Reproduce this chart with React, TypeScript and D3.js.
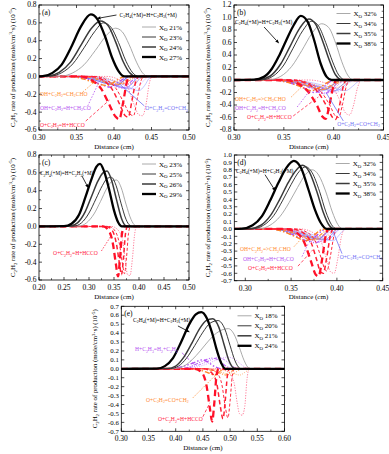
import React from "react";
import * as d3 from "d3";

type Pt = [number, number];

// ---------- (a) ----------
const aXO = ["21%", "23%", "24%", "27%"];
const aXTicks = [0.3, 0.35, 0.4, 0.45, 0.5];
const aYTicks = [-0.6, -0.4, -0.2, 0, 0.2, 0.4, 0.6, 0.8];
const aC2H4: Pt[][] = [
  [[0.3, 0], [0.33, 0.004], [0.345, 0.04], [0.36, 0.13], [0.375, 0.29], [0.39, 0.46], [0.402, 0.54], [0.411, 0.5], [0.42, 0.36], [0.43, 0.16], [0.438, 0.04], [0.445, 0], [0.5, 0]],
  [[0.3, 0], [0.315, 0.004], [0.33, 0.04], [0.345, 0.14], [0.36, 0.32], [0.374, 0.5], [0.386, 0.6], [0.396, 0.55], [0.406, 0.38], [0.416, 0.17], [0.425, 0.04], [0.433, 0], [0.5, 0]],
  [[0.3, 0], [0.312, 0.004], [0.327, 0.045], [0.342, 0.16], [0.356, 0.35], [0.37, 0.54], [0.382, 0.62], [0.392, 0.57], [0.402, 0.39], [0.412, 0.17], [0.421, 0.04], [0.429, 0], [0.5, 0]],
  [[0.3, 0], [0.305, 0.003], [0.318, 0.04], [0.33, 0.13], [0.343, 0.33], [0.356, 0.56], [0.369, 0.695], [0.378, 0.64], [0.388, 0.45], [0.397, 0.22], [0.406, 0.06], [0.414, 0], [0.5, 0]],
];
const aHCCO: Pt[][] = [
  [[0.3, 0], [0.39, 0], [0.405, -0.03], [0.418, -0.12], [0.427, -0.32], [0.433, -0.43], [0.438, -0.44], [0.443, -0.3], [0.447, -0.08], [0.451, 0], [0.5, 0]],
  [[0.3, 0], [0.375, 0], [0.39, -0.04], [0.403, -0.14], [0.414, -0.31], [0.421, -0.42], [0.426, -0.44], [0.431, -0.25], [0.436, -0.05], [0.44, 0], [0.5, 0]],
  [[0.3, 0], [0.37, 0], [0.385, -0.04], [0.398, -0.15], [0.408, -0.32], [0.415, -0.44], [0.419, -0.455], [0.424, -0.27], [0.429, -0.06], [0.433, 0], [0.5, 0]],
  [[0.3, 0], [0.355, 0], [0.37, -0.04], [0.383, -0.14], [0.394, -0.32], [0.402, -0.45], [0.407, -0.48], [0.412, -0.3], [0.417, -0.07], [0.421, 0], [0.5, 0]],
];
const aCH2CHO: Pt[][] = [
  [[0.3, 0], [0.37, 0], [0.39, -0.02], [0.405, -0.06], [0.418, -0.085], [0.428, -0.06], [0.437, -0.015], [0.445, 0], [0.5, 0]],
  [[0.3, 0], [0.36, 0], [0.38, -0.025], [0.395, -0.065], [0.408, -0.09], [0.418, -0.06], [0.427, -0.015], [0.435, 0], [0.5, 0]],
  [[0.3, 0], [0.355, 0], [0.375, -0.025], [0.39, -0.07], [0.403, -0.095], [0.413, -0.06], [0.422, -0.015], [0.43, 0], [0.5, 0]],
  [[0.3, 0], [0.34, 0], [0.36, -0.03], [0.375, -0.075], [0.39, -0.1], [0.4, -0.065], [0.409, -0.015], [0.416, 0], [0.5, 0]],
];
const aCH2CO: Pt[][] = [
  [[0.3, 0], [0.37, 0], [0.395, -0.03], [0.41, -0.08], [0.425, -0.14], [0.435, -0.09], [0.443, -0.02], [0.45, 0], [0.5, 0]],
  [[0.3, 0], [0.36, 0], [0.385, -0.03], [0.4, -0.08], [0.414, -0.13], [0.424, -0.08], [0.432, -0.02], [0.44, 0], [0.5, 0]],
  [[0.3, 0], [0.355, 0], [0.38, -0.03], [0.395, -0.08], [0.41, -0.13], [0.42, -0.08], [0.428, -0.02], [0.435, 0], [0.5, 0]],
  [[0.3, 0], [0.34, 0], [0.365, -0.03], [0.38, -0.08], [0.395, -0.12], [0.405, -0.07], [0.414, -0.02], [0.42, 0], [0.5, 0]],
];
const aCOCH2: Pt[][] = [
  [[0.3, 0], [0.37, 0], [0.395, -0.04], [0.415, -0.1], [0.433, -0.16], [0.441, -0.1], [0.447, -0.02], [0.452, 0], [0.5, 0]],
  [[0.3, 0], [0.36, 0], [0.385, -0.04], [0.405, -0.1], [0.421, -0.14], [0.429, -0.08], [0.435, -0.02], [0.44, 0], [0.5, 0]],
  [[0.3, 0], [0.355, 0], [0.38, -0.04], [0.4, -0.1], [0.416, -0.13], [0.424, -0.08], [0.43, -0.02], [0.435, 0], [0.5, 0]],
  [[0.3, 0], [0.345, 0], [0.37, -0.03], [0.39, -0.08], [0.404, -0.1], [0.411, -0.06], [0.417, -0.015], [0.422, 0], [0.5, 0]],
];

// ---------- (b) ----------
const bXO = ["32%", "34%", "35%", "38%"];
const bXTicks = [0.3, 0.35, 0.4, 0.45];
const bYTicks = [-0.8, -0.6, -0.4, -0.2, 0, 0.2, 0.4, 0.6, 0.8, 1.0, 1.2];
const bC2H4: Pt[][] = [
  [[0.3, 0], [0.335, 0.005], [0.347, 0.06], [0.358, 0.22], [0.368, 0.47], [0.378, 0.74], [0.388, 0.9], [0.395, 0.84], [0.402, 0.59], [0.408, 0.3], [0.414, 0.08], [0.42, 0], [0.45, 0]],
  [[0.3, 0], [0.328, 0.005], [0.339, 0.06], [0.35, 0.24], [0.359, 0.5], [0.369, 0.79], [0.378, 0.94], [0.385, 0.86], [0.392, 0.6], [0.399, 0.29], [0.405, 0.08], [0.412, 0], [0.45, 0]],
  [[0.3, 0], [0.325, 0.005], [0.336, 0.06], [0.347, 0.26], [0.356, 0.53], [0.366, 0.83], [0.375, 0.975], [0.382, 0.89], [0.389, 0.62], [0.396, 0.3], [0.402, 0.08], [0.409, 0], [0.45, 0]],
  [[0.3, 0], [0.32, 0.005], [0.33, 0.05], [0.338, 0.18], [0.345, 0.38], [0.352, 0.62], [0.36, 0.88], [0.367, 1.025], [0.374, 0.93], [0.38, 0.66], [0.387, 0.26], [0.393, 0.05], [0.398, 0], [0.45, 0]],
];
const bHCCO: Pt[][] = [
  [[0.3, 0], [0.375, 0], [0.39, -0.04], [0.4, -0.15], [0.407, -0.35], [0.412, -0.53], [0.416, -0.56], [0.42, -0.4], [0.424, -0.12], [0.428, 0], [0.45, 0]],
  [[0.3, 0], [0.36, 0], [0.375, -0.05], [0.387, -0.18], [0.396, -0.4], [0.402, -0.58], [0.405, -0.6], [0.409, -0.38], [0.413, -0.08], [0.416, 0], [0.45, 0]],
  [[0.3, 0], [0.357, 0], [0.372, -0.05], [0.384, -0.19], [0.393, -0.42], [0.399, -0.6], [0.402, -0.63], [0.406, -0.4], [0.41, -0.08], [0.413, 0], [0.45, 0]],
  [[0.3, 0], [0.35, 0], [0.363, -0.05], [0.374, -0.18], [0.383, -0.4], [0.389, -0.59], [0.392, -0.62], [0.396, -0.38], [0.4, -0.08], [0.403, 0], [0.45, 0]],
];
const bCH2CHO: Pt[][] = [
  [[0.3, 0], [0.35, 0], [0.37, -0.03], [0.385, -0.09], [0.398, -0.14], [0.407, -0.1], [0.415, -0.03], [0.422, 0], [0.45, 0]],
  [[0.3, 0], [0.345, 0], [0.363, -0.03], [0.378, -0.1], [0.39, -0.15], [0.399, -0.1], [0.407, -0.03], [0.413, 0], [0.45, 0]],
  [[0.3, 0], [0.342, 0], [0.36, -0.03], [0.375, -0.1], [0.387, -0.16], [0.396, -0.1], [0.404, -0.03], [0.41, 0], [0.45, 0]],
  [[0.3, 0], [0.335, 0], [0.352, -0.03], [0.366, -0.1], [0.378, -0.17], [0.387, -0.11], [0.395, -0.03], [0.401, 0], [0.45, 0]],
];
const bCH2CO: Pt[][] = [
  [[0.3, 0], [0.35, 0], [0.372, -0.04], [0.388, -0.12], [0.402, -0.2], [0.41, -0.13], [0.417, -0.03], [0.423, 0], [0.45, 0]],
  [[0.3, 0], [0.345, 0], [0.365, -0.04], [0.38, -0.13], [0.393, -0.21], [0.401, -0.13], [0.408, -0.03], [0.414, 0], [0.45, 0]],
  [[0.3, 0], [0.342, 0], [0.362, -0.04], [0.377, -0.13], [0.39, -0.22], [0.398, -0.14], [0.405, -0.03], [0.411, 0], [0.45, 0]],
  [[0.3, 0], [0.335, 0], [0.355, -0.04], [0.369, -0.12], [0.381, -0.2], [0.389, -0.13], [0.396, -0.03], [0.402, 0], [0.45, 0]],
];
const bCOCH2: Pt[][] = [
  [[0.3, 0], [0.355, 0], [0.38, -0.05], [0.398, -0.12], [0.412, -0.17], [0.419, -0.1], [0.425, -0.02], [0.43, 0], [0.45, 0]],
  [[0.3, 0], [0.35, 0], [0.373, -0.05], [0.39, -0.12], [0.403, -0.17], [0.41, -0.1], [0.416, -0.02], [0.421, 0], [0.45, 0]],
  [[0.3, 0], [0.347, 0], [0.37, -0.05], [0.387, -0.12], [0.4, -0.18], [0.407, -0.1], [0.413, -0.02], [0.418, 0], [0.45, 0]],
  [[0.3, 0], [0.34, 0], [0.362, -0.05], [0.378, -0.11], [0.391, -0.16], [0.398, -0.09], [0.404, -0.02], [0.409, 0], [0.45, 0]],
];

// ---------- (c) ----------
const cXO = ["23%", "25%", "26%", "29%"];
const cXTicks = [0.2, 0.25, 0.3, 0.35, 0.4, 0.45, 0.5];
const cYTicks = [-0.6, -0.4, -0.2, 0, 0.2, 0.4, 0.6, 0.8];
const cC2H4: Pt[][] = [
  [[0.2, 0], [0.28, 0.004], [0.295, 0.04], [0.31, 0.14], [0.323, 0.28], [0.336, 0.43], [0.347, 0.51], [0.355, 0.52], [0.364, 0.44], [0.374, 0.25], [0.384, 0.08], [0.392, 0.01], [0.398, 0], [0.5, 0]],
  [[0.2, 0], [0.27, 0.004], [0.285, 0.04], [0.3, 0.15], [0.314, 0.31], [0.327, 0.46], [0.337, 0.54], [0.345, 0.55], [0.354, 0.46], [0.364, 0.26], [0.374, 0.08], [0.382, 0.01], [0.388, 0], [0.5, 0]],
  [[0.2, 0], [0.262, 0.004], [0.277, 0.04], [0.292, 0.16], [0.306, 0.35], [0.318, 0.51], [0.328, 0.6], [0.336, 0.62], [0.345, 0.52], [0.355, 0.3], [0.365, 0.09], [0.373, 0.01], [0.379, 0], [0.5, 0]],
  [[0.2, 0], [0.25, 0.003], [0.265, 0.03], [0.28, 0.13], [0.293, 0.33], [0.305, 0.53], [0.315, 0.67], [0.322, 0.7], [0.33, 0.62], [0.34, 0.42], [0.35, 0.18], [0.358, 0.05], [0.366, 0], [0.5, 0]],
];
const cHCCO: Pt[][] = [
  [[0.2, 0], [0.345, 0], [0.358, -0.04], [0.367, -0.15], [0.373, -0.4], [0.377, -0.54], [0.382, -0.55], [0.387, -0.35], [0.391, -0.1], [0.395, 0], [0.5, 0]],
  [[0.2, 0], [0.34, 0], [0.352, -0.05], [0.361, -0.2], [0.367, -0.42], [0.371, -0.53], [0.375, -0.35], [0.379, -0.08], [0.383, 0], [0.5, 0]],
  [[0.2, 0], [0.335, 0], [0.347, -0.05], [0.355, -0.2], [0.361, -0.42], [0.365, -0.54], [0.369, -0.35], [0.373, -0.08], [0.377, 0], [0.5, 0]],
  [[0.2, 0], [0.328, 0], [0.34, -0.05], [0.348, -0.2], [0.354, -0.43], [0.358, -0.56], [0.362, -0.36], [0.366, -0.08], [0.37, 0], [0.5, 0]],
];

// ---------- (d) ----------
const dXO = ["32%", "34%", "35%", "38%"];
const dXTicks = [0.3, 0.35, 0.4, 0.45];
const dYTicks = [-0.7, -0.6, -0.5, -0.4, -0.3, -0.2, -0.1, 0, 0.1, 0.2, 0.3, 0.4, 0.5, 0.6, 0.7, 0.8, 0.9, 1.0];
const dC2H4: Pt[][] = [
  [[0.288, 0], [0.315, 0.004], [0.327, 0.05], [0.338, 0.17], [0.348, 0.36], [0.357, 0.56], [0.366, 0.74], [0.373, 0.8], [0.38, 0.73], [0.388, 0.5], [0.395, 0.23], [0.401, 0.06], [0.406, 0], [0.45, 0]],
  [[0.288, 0], [0.308, 0.004], [0.32, 0.05], [0.331, 0.18], [0.341, 0.39], [0.35, 0.6], [0.359, 0.78], [0.366, 0.84], [0.373, 0.76], [0.381, 0.51], [0.388, 0.23], [0.394, 0.06], [0.4, 0], [0.45, 0]],
  [[0.288, 0], [0.305, 0.004], [0.317, 0.05], [0.328, 0.19], [0.338, 0.41], [0.347, 0.63], [0.356, 0.8], [0.3625, 0.86], [0.37, 0.77], [0.378, 0.51], [0.385, 0.23], [0.391, 0.06], [0.397, 0], [0.45, 0]],
  [[0.288, 0], [0.296, 0.003], [0.308, 0.05], [0.318, 0.17], [0.327, 0.38], [0.336, 0.62], [0.345, 0.83], [0.353, 0.92], [0.361, 0.82], [0.369, 0.53], [0.376, 0.26], [0.382, 0.09], [0.389, 0], [0.45, 0]],
];
const dHCCO: Pt[][] = [
  [[0.288, 0], [0.36, 0], [0.374, -0.05], [0.383, -0.18], [0.389, -0.42], [0.393, -0.58], [0.397, -0.6], [0.401, -0.4], [0.405, -0.1], [0.409, 0], [0.45, 0]],
  [[0.288, 0], [0.355, 0], [0.368, -0.05], [0.377, -0.18], [0.383, -0.4], [0.387, -0.55], [0.389, -0.57], [0.393, -0.36], [0.397, -0.08], [0.4, 0], [0.45, 0]],
  [[0.288, 0], [0.35, 0], [0.363, -0.05], [0.372, -0.19], [0.378, -0.42], [0.382, -0.58], [0.385, -0.6], [0.389, -0.38], [0.393, -0.08], [0.396, 0], [0.45, 0]],
  [[0.288, 0], [0.343, 0], [0.356, -0.05], [0.365, -0.2], [0.372, -0.45], [0.377, -0.62], [0.38, -0.64], [0.384, -0.4], [0.388, -0.08], [0.391, 0], [0.45, 0]],
];
const dCH2CHO: Pt[][] = [
  [[0.288, 0], [0.34, 0], [0.356, -0.03], [0.37, -0.09], [0.382, -0.14], [0.39, -0.09], [0.397, -0.025], [0.403, 0], [0.45, 0]],
  [[0.288, 0], [0.335, 0], [0.35, -0.03], [0.364, -0.1], [0.376, -0.15], [0.384, -0.09], [0.391, -0.025], [0.397, 0], [0.45, 0]],
  [[0.288, 0], [0.332, 0], [0.347, -0.03], [0.361, -0.1], [0.373, -0.15], [0.381, -0.09], [0.388, -0.025], [0.394, 0], [0.45, 0]],
  [[0.288, 0], [0.325, 0], [0.34, -0.03], [0.354, -0.1], [0.366, -0.16], [0.374, -0.1], [0.381, -0.025], [0.387, 0], [0.45, 0]],
];
const dCH2CO: Pt[][] = [
  [[0.288, 0], [0.342, 0], [0.36, -0.04], [0.374, -0.11], [0.386, -0.18], [0.393, -0.11], [0.399, -0.03], [0.405, 0], [0.45, 0]],
  [[0.288, 0], [0.337, 0], [0.354, -0.04], [0.368, -0.12], [0.38, -0.18], [0.387, -0.11], [0.393, -0.03], [0.399, 0], [0.45, 0]],
  [[0.288, 0], [0.334, 0], [0.351, -0.04], [0.365, -0.12], [0.377, -0.19], [0.384, -0.11], [0.39, -0.03], [0.396, 0], [0.45, 0]],
  [[0.288, 0], [0.327, 0], [0.344, -0.04], [0.358, -0.11], [0.37, -0.17], [0.377, -0.1], [0.383, -0.03], [0.389, 0], [0.45, 0]],
];
const dCOCH2: Pt[][] = [
  [[0.288, 0], [0.345, 0], [0.366, -0.05], [0.382, -0.11], [0.396, -0.16], [0.402, -0.09], [0.407, -0.02], [0.411, 0], [0.45, 0]],
  [[0.288, 0], [0.34, 0], [0.36, -0.05], [0.376, -0.11], [0.39, -0.15], [0.396, -0.09], [0.401, -0.02], [0.405, 0], [0.45, 0]],
  [[0.288, 0], [0.337, 0], [0.357, -0.05], [0.373, -0.11], [0.387, -0.15], [0.393, -0.09], [0.398, -0.02], [0.402, 0], [0.45, 0]],
  [[0.288, 0], [0.33, 0], [0.35, -0.05], [0.366, -0.1], [0.38, -0.14], [0.386, -0.08], [0.391, -0.02], [0.395, 0], [0.45, 0]],
];

// ---------- (e) ----------
const eXO = ["18%", "20%", "21%", "24%"];
const eXTicks = [0.3, 0.35, 0.4, 0.45, 0.5, 0.55, 0.6];
const eYTicks = [-0.7, -0.6, -0.5, -0.4, -0.3, -0.2, -0.1, 0, 0.1, 0.2, 0.3, 0.4, 0.5, 0.6, 0.7];
const eC2H4: Pt[][] = [
  [[0.3, 0], [0.4, 0.003], [0.415, 0.03], [0.43, 0.1], [0.445, 0.2], [0.46, 0.31], [0.475, 0.4], [0.487, 0.44], [0.497, 0.45], [0.507, 0.39], [0.517, 0.24], [0.526, 0.09], [0.534, 0.01], [0.54, 0], [0.6, 0]],
  [[0.3, 0], [0.39, 0.003], [0.405, 0.03], [0.42, 0.12], [0.435, 0.26], [0.45, 0.41], [0.463, 0.51], [0.478, 0.54], [0.49, 0.45], [0.5, 0.26], [0.509, 0.09], [0.517, 0.01], [0.522, 0], [0.6, 0]],
  [[0.3, 0], [0.385, 0.003], [0.4, 0.03], [0.415, 0.13], [0.43, 0.29], [0.444, 0.45], [0.456, 0.54], [0.468, 0.56], [0.479, 0.47], [0.489, 0.27], [0.498, 0.09], [0.506, 0.01], [0.511, 0], [0.6, 0]],
  [[0.3, 0], [0.365, 0.003], [0.38, 0.03], [0.395, 0.12], [0.41, 0.3], [0.425, 0.5], [0.437, 0.61], [0.447, 0.635], [0.457, 0.57], [0.467, 0.4], [0.476, 0.2], [0.484, 0.06], [0.491, 0], [0.6, 0]],
];
const eC2H3: Pt[][] = [
  [[0.3, 0], [0.42, 0], [0.44, 0.02], [0.46, 0.06], [0.48, 0.11], [0.495, 0.13], [0.508, 0.11], [0.52, 0.05], [0.53, 0.01], [0.537, 0], [0.6, 0]],
  [[0.3, 0], [0.41, 0], [0.43, 0.02], [0.45, 0.06], [0.465, 0.1], [0.478, 0.125], [0.49, 0.1], [0.502, 0.04], [0.512, 0.01], [0.518, 0], [0.6, 0]],
  [[0.3, 0], [0.405, 0], [0.425, 0.02], [0.44, 0.06], [0.455, 0.1], [0.466, 0.12], [0.478, 0.1], [0.49, 0.04], [0.5, 0.01], [0.507, 0], [0.6, 0]],
  [[0.3, 0], [0.39, 0], [0.41, 0.02], [0.425, 0.05], [0.438, 0.08], [0.448, 0.1], [0.458, 0.08], [0.47, 0.03], [0.48, 0.005], [0.486, 0], [0.6, 0]],
];
const eCOCH2: Pt[][] = [
  [[0.3, 0], [0.47, 0], [0.49, -0.02], [0.505, -0.05], [0.518, -0.07], [0.527, -0.04], [0.535, -0.01], [0.54, 0], [0.6, 0]],
  [[0.3, 0], [0.455, 0], [0.475, -0.02], [0.49, -0.05], [0.502, -0.07], [0.51, -0.04], [0.517, -0.01], [0.522, 0], [0.6, 0]],
  [[0.3, 0], [0.45, 0], [0.468, -0.02], [0.482, -0.05], [0.493, -0.07], [0.5, -0.04], [0.507, -0.01], [0.512, 0], [0.6, 0]],
  [[0.3, 0], [0.43, 0], [0.448, -0.02], [0.462, -0.05], [0.472, -0.07], [0.479, -0.04], [0.485, -0.01], [0.49, 0], [0.6, 0]],
];
const eHCCO: Pt[][] = [
  [[0.3, 0], [0.48, 0], [0.497, -0.04], [0.507, -0.15], [0.513, -0.38], [0.517, -0.5], [0.522, -0.52], [0.527, -0.42], [0.531, -0.12], [0.535, 0], [0.6, 0]],
  [[0.3, 0], [0.46, 0], [0.476, -0.05], [0.485, -0.18], [0.491, -0.42], [0.496, -0.55], [0.5, -0.36], [0.504, -0.08], [0.508, 0], [0.6, 0]],
  [[0.3, 0], [0.452, 0], [0.467, -0.05], [0.476, -0.18], [0.482, -0.42], [0.487, -0.56], [0.491, -0.36], [0.495, -0.08], [0.499, 0], [0.6, 0]],
  [[0.3, 0], [0.435, 0], [0.449, -0.05], [0.457, -0.2], [0.463, -0.45], [0.467, -0.59], [0.471, -0.38], [0.475, -0.08], [0.479, 0], [0.6, 0]],
];

// reaction labels
const R_C2H4 = "C_2H_4(+M)=H+C_2H_3(+M)";
const R_CH2CHO = "OH+C_2H_2=CH_2CHO";
const R_CH2CHO2 = "OH+C_2H_2=>CH_2CHO";
const R_CH2CO = "OH+C_2H_2=H+CH_2CO";
const R_HCCO = "O+C_2H_2=H+HCCO";
const R_COCH2 = "O+C_2H_2=CO+CH_2";
const R_C2H3 = "H+C_2H_3=H_2+C_2H_2";

const FONT = "'Liberation Serif', 'Times New Roman', serif";
const ANN = 5.6; // annotation font size

type Kind = "pos" | "red" | "orange" | "purple" | "blue";
const COL: Record<string, string> = {
  black: "#000",
  red: "#ff2040",
  orange: "#ff8a30",
  purple: "#b450f0",
  blue: "#7070f5",
};
const posStyle = [
  { c: "#a0a0a0", w: 0.9 },
  { c: "#222", w: 0.9 },
  { c: "#3a3a3a", w: 1.5 },
  { c: "#000", w: 2.3 },
];
const negStyle: Record<string, { c: string[]; w: number[]; d: string[] }> = {
  red: {
    c: ["#ff6f8f", "#ff2a40", "#ff2035", "#ff1028"],
    w: [0.9, 1.0, 1.5, 2.3],
    d: ["1.2,1.4", "3,2", "4.5,3", "6.5,4"],
  },
  orange: {
    c: ["#ffa060", "#ff9040", "#ff8a30", "#ff8020"],
    w: [0.8, 0.9, 1.1, 1.4],
    d: ["1,1.3", "3,1.5,1,1.5", "4,1.5,1,1.5", "5,2,1.5,2"],
  },
  purple: {
    c: ["#d090ff", "#c070ff", "#b860f8", "#b050f0"],
    w: [0.8, 0.9, 1.1, 1.4],
    d: ["1,1.3", "3,1.2,1,1.2,1,1.2", "4,1.5,1,1.5,1,1.5", "5,2,1.5,2,1.5,2"],
  },
  blue: {
    c: ["#a0a0ff", "#9090ff", "#8585fa", "#7878f5"],
    w: [0.6, 0.7, 0.9, 1.1],
    d: ["", "", "", ""],
  },
};

// "_x" -> subscript, "^x" / "^{..}" -> superscript
const chem = (s: string, fs: number) => {
  const parts: React.ReactNode[] = [];
  const re = /_(\{[^}]*\}|.)|\^(\{[^}]*\}|.)/g;
  let last = 0;
  let off = 0;
  let k = 0;
  let m: RegExpExecArray | null;
  while ((m = re.exec(s))) {
    if (m.index > last) {
      parts.push(<tspan key={k++} dy={-off}>{s.slice(last, m.index)}</tspan>);
      off = 0;
    }
    const isSub = m[1] !== undefined;
    const raw = (isSub ? m[1] : m[2]).replace(/[{}]/g, "");
    const d = isSub ? fs * 0.28 : -fs * 0.38;
    parts.push(
      <tspan key={k++} dy={d - off} fontSize={fs * 0.7}>
        {raw}
      </tspan>
    );
    off = d;
    last = re.lastIndex;
  }
  if (last < s.length) parts.push(<tspan key={k++} dy={-off}>{s.slice(last)}</tspan>);
  return parts;
};

interface Label { t: string; at: Pt; c: string; fs?: number }
interface Leader { from: Pt; to: Pt; c: string; dash?: string; arrow?: boolean }
interface Cfg {
  id: string;
  tag: string;
  box: [number, number, number, number];
  xDom: [number, number];
  yDom: [number, number];
  xTicks: number[];
  yTicks: number[];
  yMinor: boolean;
  tickFs: number;
  xo: string[];
  series: { data: Pt[][]; kind: Kind }[];
  labels: Label[];
  leaders: Leader[];
  legendTop: number;
}

const panels: Cfg[] = [
  {
    id: "a", tag: "(a)", box: [39, 5, 189, 130], xDom: [0.3, 0.5], yDom: [-0.6, 0.8],
    xTicks: aXTicks, yTicks: aYTicks, yMinor: true, tickFs: 7.5, xo: aXO, legendTop: 22,
    series: [
      { data: aCOCH2, kind: "blue" }, { data: aCH2CO, kind: "purple" },
      { data: aCH2CHO, kind: "orange" }, { data: aHCCO, kind: "red" }, { data: aC2H4, kind: "pos" },
    ],
    labels: [
      { t: R_C2H4, at: [0.4073, 0.67], c: COL.black },
      { t: R_CH2CHO, at: [0.3013, -0.215], c: COL.orange },
      { t: R_CH2CO, at: [0.3013, -0.375], c: COL.purple },
      { t: R_HCCO, at: [0.3013, -0.565], c: COL.red },
      { t: R_COCH2, at: [0.4417, -0.38], c: COL.blue },
    ],
    leaders: [
      { from: [0.4033, 0.688], to: [0.3768, 0.648], c: COL.black, arrow: true },
      { from: [0.3583, -0.175], to: [0.3768, -0.04], c: COL.orange, dash: "1.5,1.5" },
      { from: [0.365, -0.33], to: [0.38, -0.063], c: COL.purple, dash: "1.5,1.5" },
      { from: [0.3623, -0.5], to: [0.394, -0.264], c: COL.red, dash: "3,2" },
      { from: [0.4404, -0.33], to: [0.4046, -0.063], c: COL.blue },
    ],
  },
  {
    id: "b", tag: "(b)", box: [234, 5, 383.5, 130], xDom: [0.3, 0.45], yDom: [-0.8, 1.2],
    xTicks: bXTicks, yTicks: bYTicks, yMinor: true, tickFs: 7.5, xo: bXO, legendTop: 8.5,
    series: [
      { data: bCOCH2, kind: "blue" }, { data: bCH2CO, kind: "purple" },
      { data: bCH2CHO, kind: "orange" }, { data: bHCCO, kind: "red" }, { data: bC2H4, kind: "pos" },
    ],
    labels: [
      { t: R_C2H4, at: [0.301, 0.9], c: COL.black },
      { t: R_CH2CHO2, at: [0.301, -0.33], c: COL.orange },
      { t: R_CH2CO, at: [0.301, -0.48], c: COL.purple },
      { t: R_HCCO, at: [0.3131, -0.625], c: COL.red },
      { t: R_COCH2, at: [0.4035, -0.73], c: COL.blue },
    ],
    leaders: [
      { from: [0.3302, 0.848], to: [0.3453, 0.584], c: COL.black, arrow: true },
      { from: [0.3574, -0.272], to: [0.3715, -0.053], c: COL.orange, dash: "1.5,1.5" },
      { from: [0.3634, -0.432], to: [0.3765, -0.16], c: COL.purple, dash: "1.5,1.5" },
      { from: [0.3594, -0.576], to: [0.3846, -0.272], c: COL.red, dash: "3,2" },
      { from: [0.4097, -0.656], to: [0.3926, -0.208], c: COL.blue },
    ],
  },
  {
    id: "c", tag: "(c)", box: [39, 155, 189, 280], xDom: [0.2, 0.5], yDom: [-0.6, 0.8],
    xTicks: cXTicks, yTicks: cYTicks, yMinor: true, tickFs: 7.5, xo: cXO, legendTop: 9,
    series: [{ data: cHCCO, kind: "red" }, { data: cC2H4, kind: "pos" }],
    labels: [
      { t: R_C2H4, at: [0.202, 0.575], c: COL.black, fs: 5.2 },
      { t: R_HCCO, at: [0.2282, -0.32], c: COL.red },
    ],
    leaders: [
      { from: [0.286, 0.564], to: [0.299, 0.427], c: COL.black, arrow: true },
      { from: [0.3248, -0.275], to: [0.343, -0.115], c: COL.red, dash: "1.5,1.5" },
    ],
  },
  {
    id: "d", tag: "(d)", box: [234.3, 155, 382.7, 280.7], xDom: [0.288, 0.45], yDom: [-0.7, 1.0],
    xTicks: dXTicks, yTicks: dYTicks, yMinor: false, tickFs: 6.8, xo: dXO, legendTop: 8.5,
    series: [
      { data: dCOCH2, kind: "blue" }, { data: dCH2CO, kind: "purple" },
      { data: dCH2CHO, kind: "orange" }, { data: dHCCO, kind: "red" }, { data: dC2H4, kind: "pos" },
    ],
    labels: [
      { t: R_C2H4, at: [0.2899, 0.76], c: COL.black },
      { t: R_CH2CHO2, at: [0.2942, -0.3], c: COL.orange },
      { t: R_CH2CO, at: [0.2975, -0.428], c: COL.purple },
      { t: R_HCCO, at: [0.303, -0.55], c: COL.red },
      { t: R_COCH2, at: [0.403, -0.4], c: COL.blue },
    ],
    leaders: [
      { from: [0.3215, 0.734], to: [0.333, 0.51], c: COL.black, arrow: true },
      { from: [0.3532, -0.239], to: [0.3674, -0.05], c: COL.orange, dash: "1.5,1.5" },
      { from: [0.3619, -0.374], to: [0.369, -0.19], c: COL.purple, dash: "1.5,1.5" },
      { from: [0.3575, -0.503], to: [0.3739, -0.28], c: COL.red, dash: "3,2" },
      { from: [0.4056, -0.334], to: [0.3957, -0.03], c: COL.blue },
    ],
  },
  {
    id: "e", tag: "(e)", box: [121.3, 306.3, 284.5, 431.3], xDom: [0.3, 0.6], yDom: [-0.7, 0.7],
    xTicks: eXTicks, yTicks: eYTicks, yMinor: false, tickFs: 6.8, xo: eXO, legendTop: 9.5,
    series: [
      { data: eC2H3, kind: "purple" }, { data: eCOCH2, kind: "orange" },
      { data: eHCCO, kind: "red" }, { data: eC2H4, kind: "pos" },
    ],
    labels: [
      { t: R_C2H4, at: [0.3215, 0.525], c: COL.black },
      { t: R_C2H3, at: [0.3251, 0.2], c: COL.purple },
      { t: R_COCH2, at: [0.3453, -0.37], c: COL.orange },
      { t: R_HCCO, at: [0.3674, -0.59], c: COL.red },
    ],
    leaders: [
      { from: [0.4041, 0.48], to: [0.4261, 0.41], c: COL.black, arrow: true },
      { from: [0.4114, 0.18], to: [0.4335, 0.05], c: COL.purple, dash: "3,1.5,1,1.5" },
      { from: [0.4316, -0.325], to: [0.4739, -0.067], c: COL.orange, dash: "1.5,1.5" },
      { from: [0.45, -0.537], to: [0.4628, -0.38], c: COL.red, dash: "3,2" },
    ],
  },
];

const Panel = ({ cfg }: { cfg: Cfg }) => {
  const [x0, y0, x1, y1] = cfg.box;
  const x = d3.scaleLinear().domain(cfg.xDom).range([x0, x1]);
  const y = d3.scaleLinear().domain(cfg.yDom).range([y1, y0]);
  const line = d3
    .line<Pt>()
    .x((d) => x(d[0]))
    .y((d) => y(d[1]))
    .curve(d3.curveMonotoneX);
  const xStep = cfg.xTicks[1] - cfg.xTicks[0];
  const yStep = cfg.yTicks[1] - cfg.yTicks[0];
  const xMinor = cfg.xTicks.map((t) => t + xStep / 2).filter((t) => t < cfg.xDom[1]);
  const xMinorLeft = cfg.xTicks[0] - xStep / 2 > cfg.xDom[0] ? [cfg.xTicks[0] - xStep / 2] : [];
  const yMinor = cfg.yMinor ? cfg.yTicks.slice(0, -1).map((t) => t + yStep / 2) : [];
  const fmtY = (v: number) => (Math.abs(v) < 1e-9 ? "0.0" : v.toFixed(1));
  const clip = `clip-${cfg.id}`;
  const midY = (y0 + y1) / 2;

  return (
    <g>
      <defs>
        <clipPath id={clip}>
          <rect x={x0} y={y0} width={x1 - x0} height={y1 - y0} />
        </clipPath>
      </defs>
      <g clipPath={`url(#${clip})`}>
        {cfg.series.map((s, si) =>
          s.data.map((pts, i) => {
            const st =
              s.kind === "pos"
                ? { c: posStyle[i].c, w: posStyle[i].w, d: "" }
                : { c: negStyle[s.kind].c[i], w: negStyle[s.kind].w[i], d: negStyle[s.kind].d[i] };
            return (
              <path
                key={`${si}-${i}`}
                d={line(pts) ?? ""}
                fill="none"
                stroke={st.c}
                strokeWidth={st.w}
                strokeDasharray={st.d || undefined}
                strokeLinejoin="round"
              />
            );
          })
        )}
      </g>
      {/* frame */}
      <rect x={x0} y={y0} width={x1 - x0} height={y1 - y0} fill="none" stroke="#000" strokeWidth={0.8} />
      {/* x ticks */}
      {cfg.xTicks.map((t) => (
        <g key={`xt${t}`}>
          <line x1={x(t)} x2={x(t)} y1={y1} y2={y1 - 3} stroke="#000" strokeWidth={0.7} />
          <line x1={x(t)} x2={x(t)} y1={y0} y2={y0 + 3} stroke="#000" strokeWidth={0.7} />
          <text x={x(t)} y={y1 + 10} fontSize={7.5} textAnchor="middle" fontFamily={FONT}>
            {t.toFixed(2)}
          </text>
        </g>
      ))}
      {[...xMinorLeft, ...xMinor].map((t) => (
        <g key={`xm${t}`}>
          <line x1={x(t)} x2={x(t)} y1={y1} y2={y1 - 1.8} stroke="#000" strokeWidth={0.6} />
          <line x1={x(t)} x2={x(t)} y1={y0} y2={y0 + 1.8} stroke="#000" strokeWidth={0.6} />
        </g>
      ))}
      {/* y ticks */}
      {cfg.yTicks.map((t) => (
        <g key={`yt${t}`}>
          <line x1={x0} x2={x0 + 3} y1={y(t)} y2={y(t)} stroke="#000" strokeWidth={0.7} />
          <line x1={x1} x2={x1 - 3} y1={y(t)} y2={y(t)} stroke="#000" strokeWidth={0.7} />
          <text x={x0 - 2.5} y={y(t) + cfg.tickFs * 0.33} fontSize={cfg.tickFs} textAnchor="end" fontFamily={FONT}>
            {fmtY(t)}
          </text>
        </g>
      ))}
      {yMinor.map((t) => (
        <g key={`ym${t}`}>
          <line x1={x0} x2={x0 + 1.8} y1={y(t)} y2={y(t)} stroke="#000" strokeWidth={0.6} />
          <line x1={x1} x2={x1 - 1.8} y1={y(t)} y2={y(t)} stroke="#000" strokeWidth={0.6} />
        </g>
      ))}
      {/* axis titles */}
      <text x={(x0 + x1) / 2} y={y1 + 18.5} fontSize={7} textAnchor="middle" fontFamily={FONT}>
        Distance (cm)
      </text>
      <text
        transform={`translate(${x0 - 24},${midY}) rotate(-90)`}
        fontSize={6.8}
        textAnchor="middle"
        fontFamily={FONT}
      >
        {chem("C_2H_2 rate of production (mole/cm^3·s) (10^{-5})", 6.8)}
      </text>
      {/* panel tag */}
      <text x={x0 + 3} y={y0 + 10} fontSize={7.5} fontFamily={FONT}>
        {cfg.tag}
      </text>
      {/* leaders */}
      {cfg.leaders.map((l, i) => {
        const fx = x(l.from[0]), fy = y(l.from[1]);
        const tx = x(l.to[0]), ty = y(l.to[1]);
        const ang = Math.atan2(ty - fy, tx - fx);
        const L = 4, Wd = 1.6;
        const bx = tx - L * Math.cos(ang), by = ty - L * Math.sin(ang);
        const px = -Math.sin(ang) * Wd, py = Math.cos(ang) * Wd;
        return (
          <g key={`ld${i}`}>
            <line
              x1={fx} y1={fy} x2={l.arrow ? bx : tx} y2={l.arrow ? by : ty}
              stroke={l.c} strokeWidth={0.8}
              strokeDasharray={l.dash}
            />
            {l.arrow && (
              <polygon points={`${tx},${ty} ${bx + px},${by + py} ${bx - px},${by - py}`} fill={l.c} />
            )}
          </g>
        );
      })}
      {/* labels */}
      {cfg.labels.map((lb, i) => (
        <text key={`lb${i}`} x={x(lb.at[0])} y={y(lb.at[1])} fontSize={lb.fs ?? ANN} fill={lb.c} fontFamily={FONT}>
          {chem(lb.t, lb.fs ?? ANN)}
        </text>
      ))}
      {/* legend */}
      {cfg.xo.map((v, i) => {
        const ly = y0 + cfg.legendTop + i * 10;
        return (
          <g key={`lg${i}`}>
            <line x1={x1 - 47} x2={x1 - 33} y1={ly} y2={ly} stroke={posStyle[i].c} strokeWidth={posStyle[i].w} />
            <text x={x1 - 30} y={ly + 2.5} fontSize={7} fontFamily={FONT}>
              {chem(`X_O ${v}`, 7)}
            </text>
          </g>
        );
      })}
    </g>
  );
};

export default function App() {
  return (
    <svg
      width={389}
      height={454}
      viewBox="0 0 389 454"
      style={{ position: "absolute", left: 0, top: 0, background: "#fff" }}
    >
      {panels.map((p) => (
        <Panel key={p.id} cfg={p} />
      ))}
    </svg>
  );
}
